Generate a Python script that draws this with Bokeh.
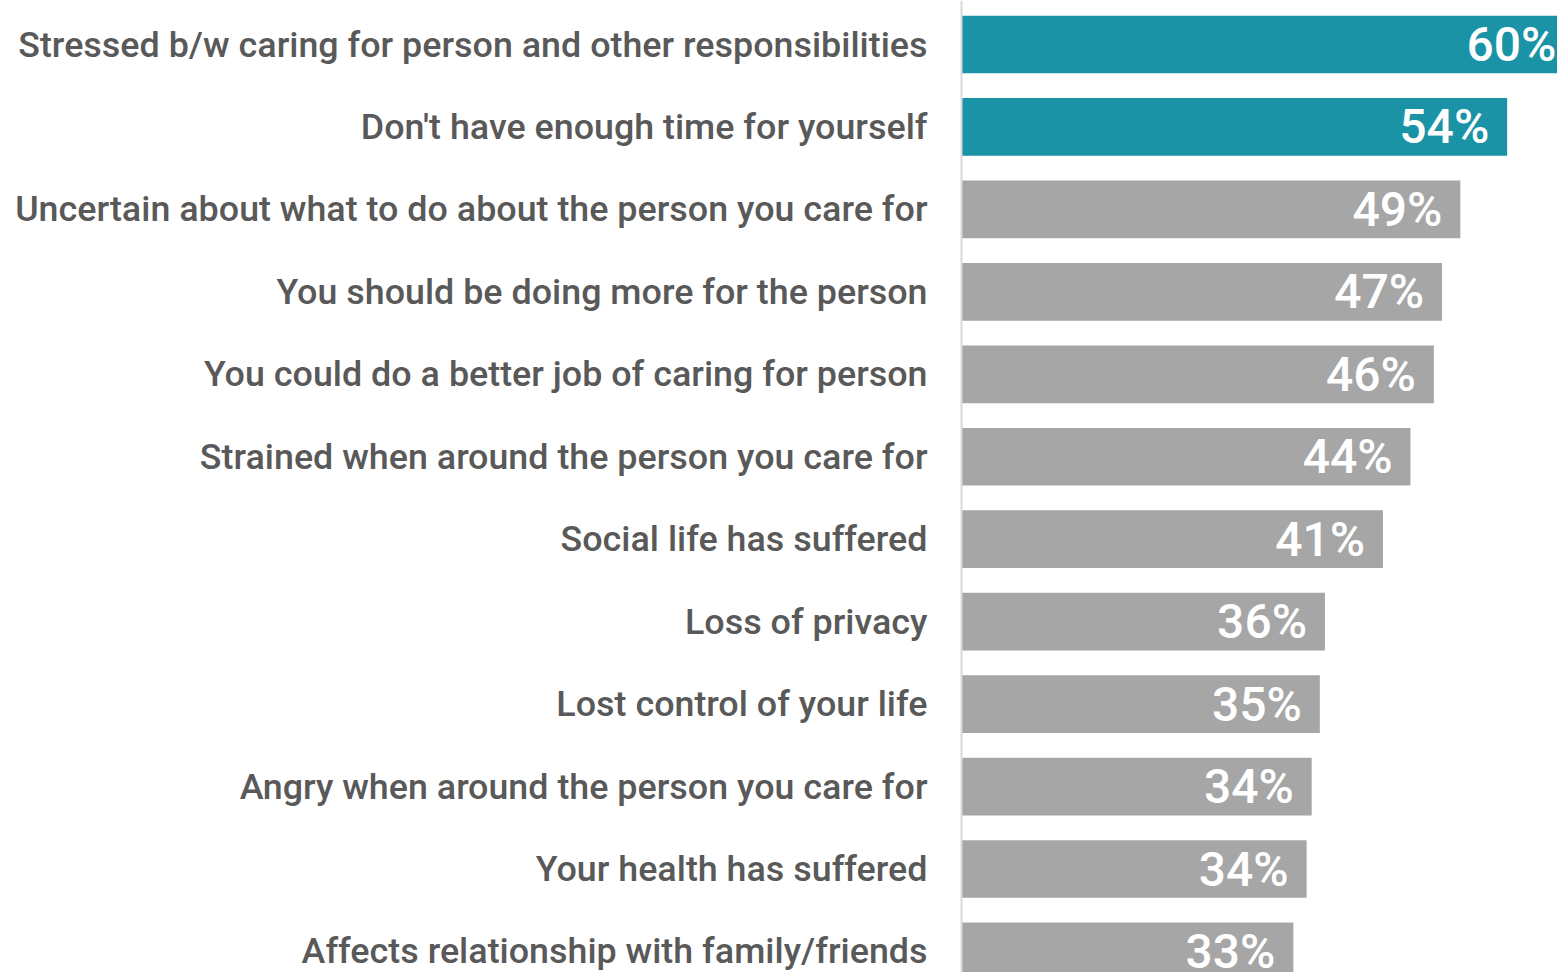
from bokeh.plotting import figure
from bokeh.models import Range1d, Span, ColumnDataSource
from bokeh.core.properties import value
from bokeh.embed import file_html
from bokeh.resources import INLINE

categories = [
    "Stressed b/w caring for person and other responsibilities",
    "Don't have enough time for yourself",
    "Uncertain about what to do about the person you care for",
    "You should be doing more for the person",
    "You could do a better job of caring for person",
    "Strained when around the person you care for",
    "Social life has suffered",
    "Loss of privacy",
    "Lost control of your life",
    "Angry when around the person you care for",
    "Your health has suffered",
    "Affects relationship with family/friends",
]
values = [60.2, 53.6, 49.0, 47.2, 46.4, 44.1, 41.4, 35.7, 35.2, 34.4, 33.9, 32.6]
value_labels = ["60%", "54%", "49%", "47%", "46%", "44%", "41%", "36%", "35%", "34%", "34%", "33%"]
highlight = [True, True, False, False, False, False, False, False, False, False, False, False]

TEAL = "#1A93A6"
GRAY = "#A6A6A6"
TEXT = "#595959"

W, H = 1557, 972
PX_PER_UNIT = 10.18
ZERO_PX = 961  # canvas x of the zero line
ROW_PX = 82.45
FIRST_ROW_PX = 44

rows = list(range(len(categories)))
src = ColumnDataSource(dict(
    y=rows,
    v=values,
    cat=categories,
    lab=value_labels,
    color=[TEAL if h else GRAY for h in highlight],
    zero=[0] * len(rows),
))

x_start = -ZERO_PX / PX_PER_UNIT
x_end = (W - ZERO_PX) / PX_PER_UNIT
y_top = -FIRST_ROW_PX / ROW_PX
y_bottom = y_top + H / ROW_PX

p = figure(width=W, height=H, output_backend="svg", toolbar_location=None,
           x_range=Range1d(x_start, x_end), y_range=Range1d(y_bottom, y_top),
           min_border=0, outline_line_color=None)
p.xaxis.visible = False
p.yaxis.visible = False
p.xgrid.visible = False
p.ygrid.visible = False
p.background_fill_color = "white"
p.border_fill_color = "white"

p.hbar(y="y", left=0, right="v", height=0.70, fill_color="color",
       line_color=None, source=src)

p.add_layout(Span(location=0, dimension="height", line_color="#D9D9D9", line_width=2))

p.text(x="zero", y="y", text="cat", source=src, x_offset=-34,
       text_align="right", text_baseline="middle",
       text_font=value("Roboto Medium"),
       text_font_size="35.8px", text_color=TEXT)

p.text(x="v", y="y", text="lab", source=src, x_offset=-18,
       text_align="right", text_baseline="middle",
       text_font=value("Roboto Medium"),
       text_font_size="48px", text_color="white")

open("out.html", "w").write(file_html(p, INLINE))
